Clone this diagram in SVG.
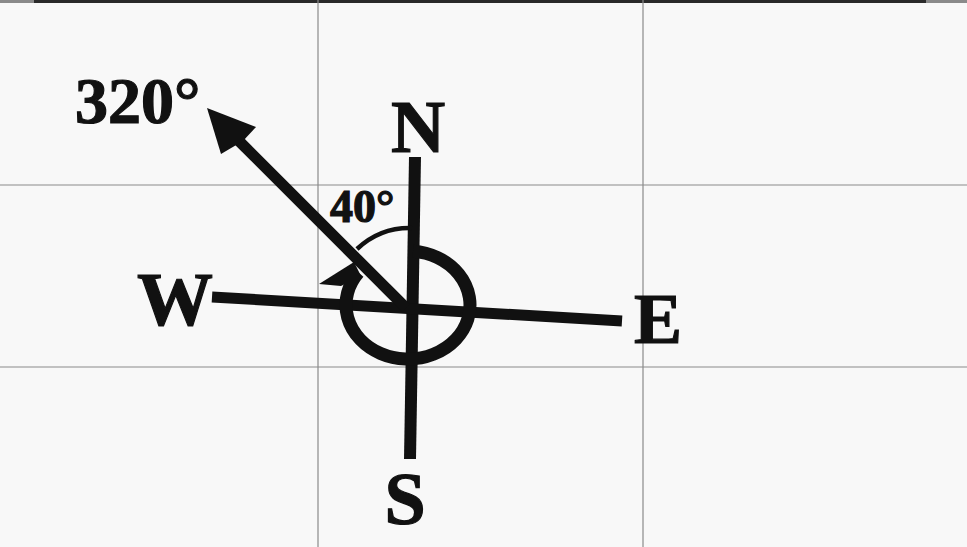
<svg xmlns="http://www.w3.org/2000/svg" width="967" height="547" viewBox="0 0 967 547">
<style>
.grid{stroke:#8a8a8a;stroke-width:1.2;fill:none}
.ink{stroke:#111;fill:none}
.lbl{font-family:"Liberation Serif","Times New Roman",serif;font-weight:bold;fill:#111;stroke:#111;stroke-width:1.2}
</style>
<rect x="0" y="0" width="967" height="547" fill="#f8f8f8"/>
<g id="grid">
<rect x="0" y="0" width="967" height="3" fill="#8a8a8a"/>
<rect x="34" y="0" width="892" height="3" fill="#2a2a2a"/>
<line class="grid" x1="318" y1="0" x2="318" y2="547"/>
<line class="grid" x1="643" y1="0" x2="643" y2="547"/>
<line class="grid" x1="0" y1="185" x2="967" y2="185"/>
<line class="grid" x1="0" y1="367" x2="967" y2="367"/>
</g>
<g id="connectors">
<line id="ns-axis" class="ink" x1="415" y1="157" x2="410" y2="459" stroke-width="12"/>
<line id="we-axis" class="ink" x1="212" y1="297" x2="622" y2="321" stroke-width="11"/>
<line id="bearing-shaft" class="ink" x1="406" y1="308" x2="238" y2="140" stroke-width="11"/>
<polygon id="bearing-head" points="207,108 256,127 243,141 221,154" fill="#111"/>
<path id="arc-320" class="ink" d="M413,251.2 A62,54 0 1,1 358.5,272.5" stroke-width="13"/>
<polygon id="arc-320-head" points="319,284 354,262 361,276 341,286" fill="#111"/>
<path id="arc-40" class="ink" d="M357,249 A77,77 0 0,1 412,228" stroke-width="4.5"/>
</g>
<g id="label-320"><text class="lbl" x="75" y="123" font-size="66">320°</text></g>
<g id="label-40"><text class="lbl" x="330" y="222" font-size="46">40°</text></g>
<g id="label-N"><text class="lbl" x="418" y="152" font-size="75" text-anchor="middle">N</text></g>
<g id="label-W"><text class="lbl" x="175" y="325" font-size="76" text-anchor="middle">W</text></g>
<g id="label-E"><text class="lbl" x="658" y="343" font-size="72" text-anchor="middle">E</text></g>
<g id="label-S"><text class="lbl" x="405" y="524" font-size="74" text-anchor="middle">S</text></g>
</svg>
